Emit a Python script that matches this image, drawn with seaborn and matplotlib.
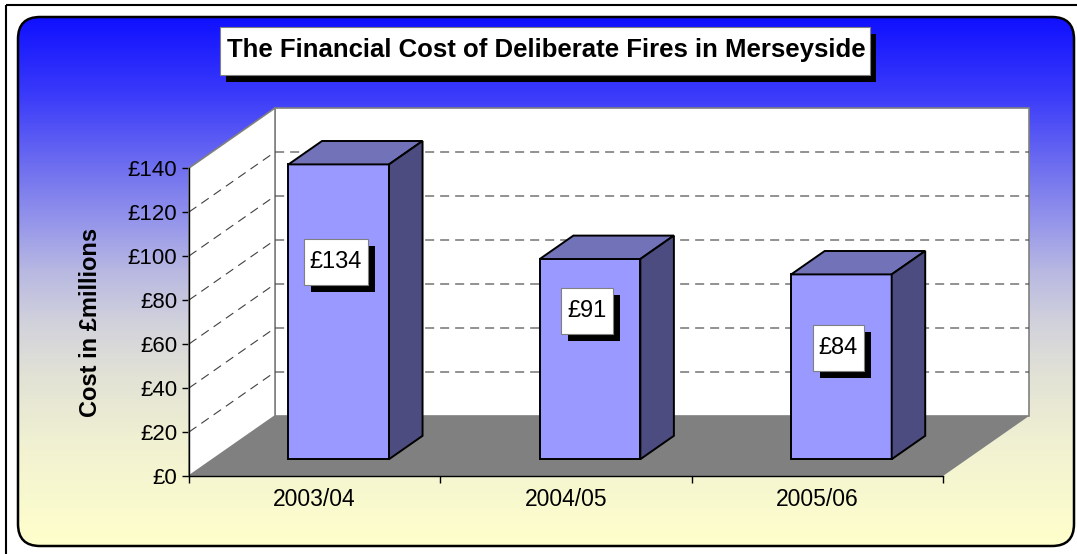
import matplotlib
matplotlib.use('Agg')
import numpy as np
import pandas as pd
import seaborn as sns
import matplotlib.pyplot as plt
from matplotlib.patches import Rectangle, Polygon, FancyBboxPatch
from matplotlib.transforms import Affine2D, IdentityTransform
from matplotlib.colors import LinearSegmentedColormap

# data
years = ['2003/04', '2004/05', '2005/06']
cost = [134, 91, 84]
cost_labels = ['£134', '£91', '£84']
y_ticks = [0, 20, 40, 60, 80, 100, 120, 140]
y_tick_labels = ['£0', '£20', '£40', '£60', '£80', '£100', '£120', '£140']
title = 'The Financial Cost of Deliberate Fires in Merseyside'
y_title = 'Cost in £millions'

W, H = 1077, 554
DEPTH_X, DEPTH_Y = 86, 60          # offset of the back wall, pixels
BAR_FRONT, BAR_BACK = 0.28, 0.67   # depth of bar front / back faces
LABEL_FRAC = [0.67, 0.74, 0.60]    # where excel put the value boxes

sns.set_theme(style='ticks')
plt.rcParams['font.family'] = ['Liberation Sans', 'DejaVu Sans']
plt.rcParams['lines.scale_dashes'] = False
plt.rcParams['text.color'] = 'black'

fig = plt.figure(figsize=(W / 100, H / 100), dpi=100)

# background layer in pixel coords
bg = fig.add_axes([0, 0, 1, 1])
bg.set_xlim(0, W)
bg.set_ylim(H, 0)
bg.axis('off')

bg.add_patch(Rectangle((6, 5), 1200, 700, fill=False, ec='black', lw=1.5, clip_on=False))

cmap = LinearSegmentedColormap.from_list('grad', [
    (0.0, '#1010ff'), (0.15, '#3c3cfa'), (0.28, '#6e6ef0'), (0.40, '#9a9aea'),
    (0.48, '#b8b8e2'), (0.58, '#d2d2dc'), (0.68, '#e2e2d6'), (0.82, '#f2f2d2'),
    (1.0, '#ffffcc')])
grad = np.linspace(0, 1, 256).reshape(-1, 1)
im = bg.imshow(grad, cmap=cmap, extent=(18, 1074, 546, 17), aspect='auto', zorder=0)
frame = FancyBboxPatch((18, 17), 1056, 529, boxstyle='round,pad=0,rounding_size=22',
                       fc='none', ec='black', lw=1.8, zorder=1)
bg.add_patch(frame)
im.set_clip_path(frame)

# title box with drop shadow
bg.add_patch(Rectangle((226, 34), 650, 48, fc='black', ec='none', zorder=2))
bg.add_patch(Rectangle((220, 27), 650, 48, fc='white', ec='#808080', lw=0.8, zorder=3))
bg.text(546, 57, title, ha='center', va='baseline', fontsize=18.5, fontweight='bold', zorder=4)

# main axes = front plane of the 3d box
ax = fig.add_axes([189 / W, 1 - 476 / H, (943 - 189) / W, (476 - 168) / H])
ax.set_facecolor('none')

df = pd.DataFrame({'year': years, 'cost': cost})
sns.barplot(data=df, x='year', y='cost', ax=ax, color='#9999ff', saturation=1,
            width=0.4, edgecolor='black', linewidth=1.4, zorder=3)
bars = list(ax.patches)

ax.set_xlim(-0.5, 2.5)
ax.set_ylim(0, 140)
ax.autoscale(False)


def proj(x, y, d):
    px, py = ax.transData.transform((x, y))
    return (px + DEPTH_X * d, py + DEPTH_Y * d)


def face(pts, **kw):
    ax.add_patch(Polygon(pts, closed=True, transform=IdentityTransform(), clip_on=False, **kw))


x0, x1, top = -0.5, 2.5, 140
# walls and floor
face([proj(x0, 0, 1), proj(x1, 0, 1), proj(x1, top, 1), proj(x0, top, 1)],
     fc='white', ec='#808080', lw=1.2, zorder=0.5)
face([proj(x0, 0, 0), proj(x0, 0, 1), proj(x0, top, 1), proj(x0, top, 0)],
     fc='white', ec='#808080', lw=1.2, zorder=0.6)
face([proj(x0, 0, 0), proj(x1, 0, 0), proj(x1, 0, 1), proj(x0, 0, 1)],
     fc='#808080', ec='none', zorder=0.7)

for v in y_ticks[1:-1]:
    pts = np.array([proj(x0, v, 0), proj(x0, v, 1), proj(x1, v, 1)])
    ax.plot(pts[:, 0], pts[:, 1], transform=IdentityTransform(), clip_on=False,
            color='#404040', lw=0.8, dashes=(6.5, 4.3), zorder=1)

# make the bars 3d
shift = Affine2D().translate(DEPTH_X * BAR_FRONT, DEPTH_Y * BAR_FRONT)
for p in bars:
    p.set_transform(ax.transData + shift)
    p.set_clip_on(False)
    bx0, bx1, h = p.get_x(), p.get_x() + p.get_width(), p.get_height()
    face([proj(bx0, h, BAR_FRONT), proj(bx1, h, BAR_FRONT), proj(bx1, h, BAR_BACK), proj(bx0, h, BAR_BACK)],
         fc='#7272b8', ec='black', lw=1.4, zorder=3)
    face([proj(bx1, 0, BAR_FRONT), proj(bx1, 0, BAR_BACK), proj(bx1, h, BAR_BACK), proj(bx1, h, BAR_FRONT)],
         fc='#4c4c80', ec='black', lw=1.4, zorder=3)

# value boxes
renderer = fig.canvas.get_renderer()
for p, lab, frac in zip(bars, cost_labels, LABEL_FRAC):
    cx, cy = proj(p.get_x() + p.get_width() / 2, p.get_height() * frac, BAR_FRONT)
    cx -= 3
    t = ax.text(cx, cy, lab, transform=IdentityTransform(), ha='center', va='center',
                fontsize=17, zorder=6, clip_on=False)
    tw = t.get_window_extent(renderer).width
    bw, bh = tw + 12, 46
    ax.add_patch(Rectangle((cx - bw / 2 + 7, cy - bh / 2 - 7), bw, bh, fc='black', ec='none',
                           transform=IdentityTransform(), clip_on=False, zorder=4))
    ax.add_patch(Rectangle((cx - bw / 2, cy - bh / 2), bw, bh, fc='white', ec='#808080', lw=0.8,
                           transform=IdentityTransform(), clip_on=False, zorder=5))

# axes styling
ax.set_yticks(y_ticks)
ax.set_yticklabels(y_tick_labels)
ax.set_xticks([0, 1, 2])
ax.set_xticklabels(years)
ax.set_xticks([-0.5, 0.5, 1.5, 2.5], minor=True)
ax.tick_params(axis='y', direction='out', length=5, width=1, pad=3.5, labelsize=16, colors='black', left=True)
ax.tick_params(axis='x', which='major', length=0, pad=9, labelsize=16.5, colors='black')
ax.tick_params(axis='x', which='minor', direction='out', length=5, width=1, color='black', bottom=True)
ax.set_xlabel('')
ax.set_ylabel(y_title, fontsize=17, fontweight='bold', color='black')
ax.yaxis.set_label_coords(-0.115, 0.5)
for s in ['top', 'right']:
    ax.spines[s].set_visible(False)
for s in ['left', 'bottom']:
    ax.spines[s].set_color('black')
    ax.spines[s].set_linewidth(1)
    ax.spines[s].set_zorder(2)

fig.savefig('out.png', dpi=100)
